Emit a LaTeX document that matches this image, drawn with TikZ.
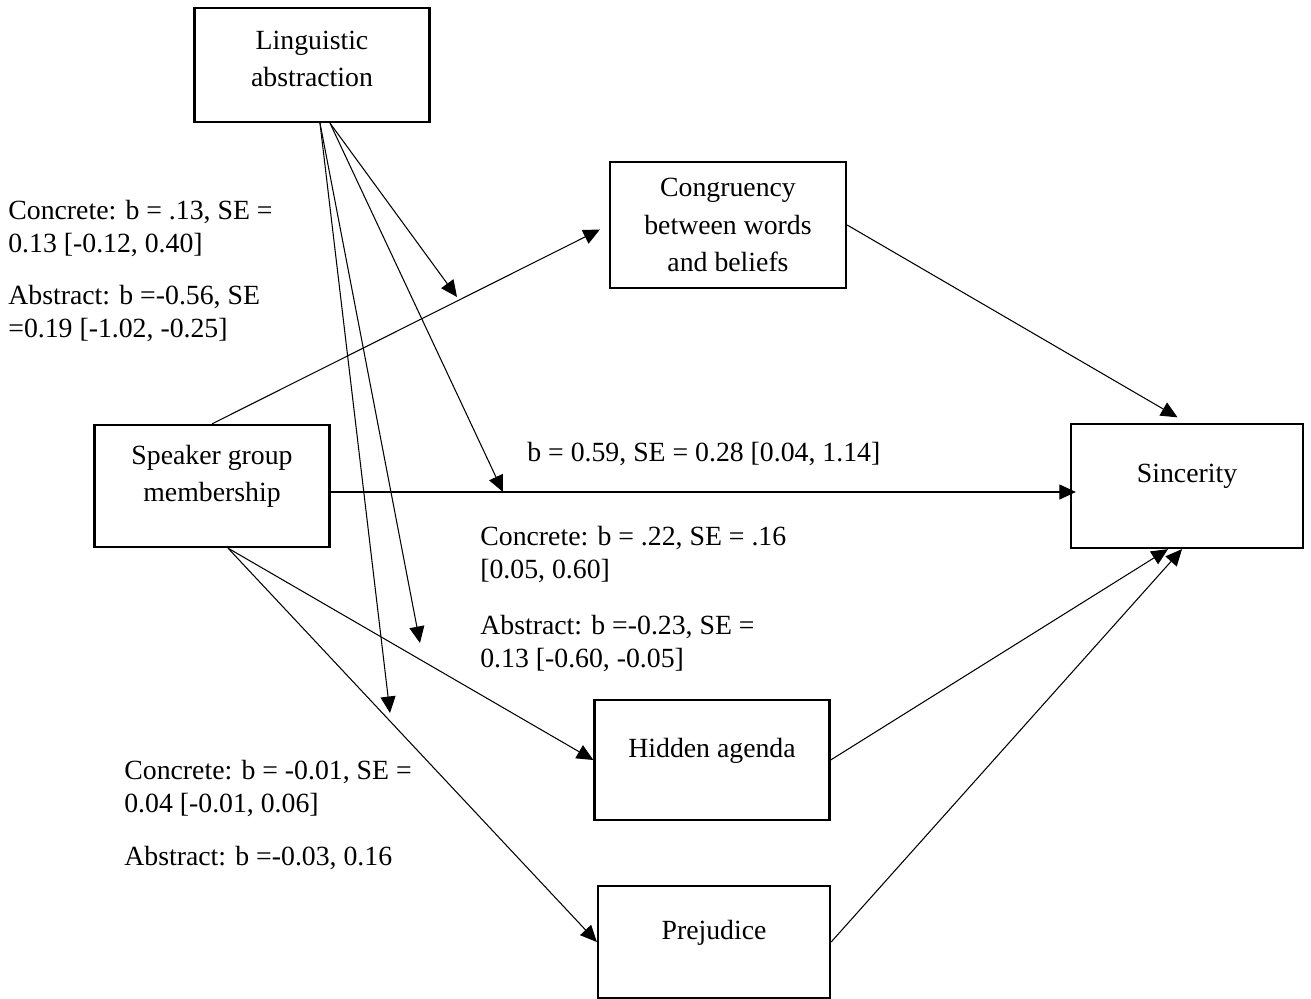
\documentclass[tikz,border=0pt]{standalone}
\usepackage{fontspec}
\setmainfont{Liberation Serif}
\usetikzlibrary{arrows.meta}

\begin{document}
\begin{tikzpicture}[
  x=0.2mm, y=-0.2mm,
  box/.style={rectangle, draw, line width=1.3pt, align=center,
              font=\fontsize{15.8}{21.2}\selectfont, minimum width=47mm,
              minimum height=24mm, text depth=14pt},
  est/.style={align=left, anchor=north west, inner sep=0pt,
              font=\fontsize{15.8}{18.7}\selectfont},
  arr/.style={-{Triangle[length=3.3mm, width=3mm]}, line width=0.6pt}]
  \useasboundingbox (0,0) rectangle (1311,999);
  % variables
  \node[box, minimum height=22.8mm, text depth=7pt] (ling) at (312,65) {Linguistic\\abstraction};
  \node[box, minimum width=47.2mm, minimum height=25.2mm, text depth=0pt] (cong) at (728,225) {Congruency\\between words\\and beliefs};
  \node[box, minimum height=24.4mm] (spk) at (212,486) {Speaker group\\membership};
  \node[box, minimum width=46.4mm, minimum height=24.8mm] (sinc) at (1187,486) {Sincerity};
  \node[box] (hid) at (712,760) {Hidden agenda};
  \node[box, minimum width=46.4mm, minimum height=22.4mm] (prej) at (714,942) {Prejudice};
  % estimates
  \node[est] (concA) at (8,200) {Concrete: b = .13, SE =\\0.13 [-0.12, 0.40]};
  \node[est] (abstA) at (8,285) {Abstract: b =-0.56, SE\\=0.19 [-1.02, -0.25]};
  \node[est] (direct) at (527,442) {b = 0.59, SE = 0.28 [0.04, 1.14]};
  \node[est] (concB) at (480,526) {Concrete: b = .22, SE = .16\\{[}0.05, 0.60]};
  \node[est] (abstB) at (480,615) {Abstract: b =-0.23, SE =\\0.13 [-0.60, -0.05]};
  \node[est] (concC) at (124,760) {Concrete: b = -0.01, SE =\\0.04 [-0.01, 0.06]};
  \node[est] (abstC) at (124,846) {Abstract: b =-0.03, 0.16};
  % moderation targets
  \coordinate (modA) at (457,297);
  \coordinate (modD) at (503,492);
  \coordinate (modH) at (420,643);
  \coordinate (modP) at (390,713);
  % paths
  \draw[arr, shorten >=2mm] (spk.north) -- (cong.west);
  \draw[arr, shorten >=2.2mm] (cong.east) -- (sinc.north);
  \draw[arr, shorten >=-1.2mm] ([yshift=-1.2mm]spk.east) -- ([yshift=-1.2mm]sinc.west);
  \draw[arr] ([xshift=3.2mm]spk.south) -- (hid.west);
  \draw[arr] ([xshift=3.2mm]spk.south) -- (prej.west);
  \draw[arr] (hid.east) -- ([xshift=-3.8mm]sinc.south);
  \draw[arr] (prej.east) -- ([xshift=-1mm]sinc.south);
  \draw[arr] ([xshift=3.6mm]ling.south) -- (modA);
  \draw[arr] ([xshift=3.6mm]ling.south) -- (modD);
  \draw[arr] ([xshift=1.6mm]ling.south) -- (modH);
  \draw[arr] ([xshift=1.6mm]ling.south) -- (modP);
\end{tikzpicture}
\end{document}
